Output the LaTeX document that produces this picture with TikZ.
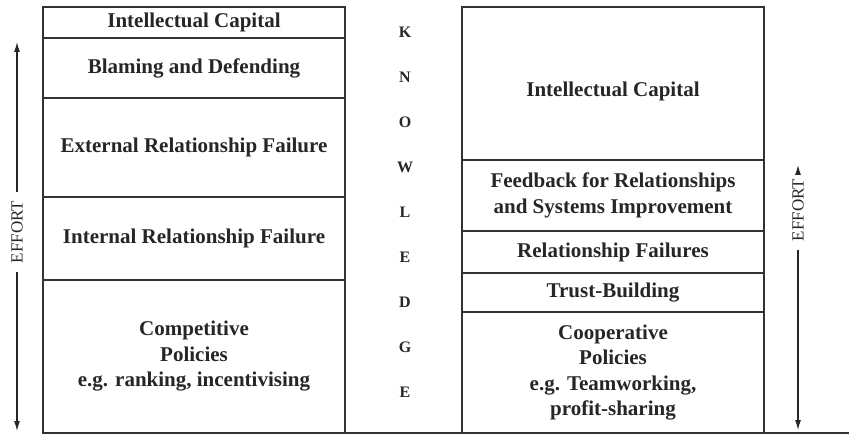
\documentclass[tikz,border=0pt]{standalone}
\usepackage{fontspec}
\setmainfont{Liberation Serif}
\usepackage{tikz}
\usetikzlibrary{arrows.meta}
\usetikzlibrary{positioning}

\begin{document}
\begin{tikzpicture}[x=1pt, y=-1pt, >={Latex[length=10pt, width=6pt]}]
	\tikzstyle{layer}=[rectangle, draw=black!80, line width=1.6pt, minimum width=302pt, inner sep=0pt, outer sep=0pt, align=center, text=black!85, font=\bfseries\fontsize{21}{25.5}\selectfont]
	\tikzstyle{letter}=[text=black!85, font=\bfseries\fontsize{16}{16}\selectfont]
	\tikzstyle{effort}=[rotate=90, inner sep=9pt, text=black!85, font=\fontsize{17}{17}\selectfont]
	\tikzstyle{connect}=[->, line width=1.1pt, draw=black!85]
	
	\useasboundingbox (0,0) rectangle (849,438);
	
	% competitive side
	\node[layer, minimum height=31pt] (ic1) at (194, 22.5) {Intellectual Capital};
	\node[layer, minimum height=60pt] (blame) [below=0pt of ic1] {Blaming and Defending};
	\node[layer, minimum height=99pt] (extfail) [below=0pt of blame] {External Relationship Failure};
	\node[layer, minimum height=83pt] (intfail) [below=0pt of extfail] {Internal Relationship Failure};
	\node[layer, minimum height=153pt] (comp) [below=0pt of intfail] {Competitive\\Policies\\e.g. ranking, incentivising};
	
	% cooperative side
	\node[layer, minimum height=153pt] (ic2) at (613, 83.5) {\raisebox{-13pt}[0pt][0pt]{Intellectual Capital}};
	\node[layer, minimum height=71pt] (feedback) [below=0pt of ic2] {Feedback for Relationships\\and Systems Improvement};
	\node[layer, minimum height=42pt] (relfail) [below=0pt of feedback] {Relationship Failures};
	\node[layer, minimum height=39pt] (trust) [below=0pt of relfail] {Trust-Building};
	\node[layer, minimum height=121pt] (coop) [below=0pt of trust] {Cooperative\\Policies\\e.g. Teamworking,\\profit-sharing};
	
	% knowledge column
	\foreach \l [count=\i] in {K,N,O,W,L,E,D,G,E}
		\node[letter] (know\i) at (405, {32+45*(\i-1)}) {\l};
	
	% base line
	\coordinate (baseend) at (849, 433);
	\draw[draw=black!80, line width=1.6pt] (comp.south west) -- (baseend);
	
	% effort arrows
	\node[effort] (effL) at (17, 232) {EFFORT};
	\coordinate (effLtop) at (17, 42);
	\coordinate (effLbot) at (17, 431);
	\node[effort] (effR) at (798, 210) {EFFORT};
	\coordinate (effRtop) at (798, 165);
	\coordinate (effRbot) at (798, 430);
	
	\path (effL) edge [connect] (effLtop)
	(effL) edge [connect] (effLbot)
	(effR) edge [connect] (effRtop)
	(effR) edge [connect] (effRbot);
	
\end{tikzpicture}
\end{document}
